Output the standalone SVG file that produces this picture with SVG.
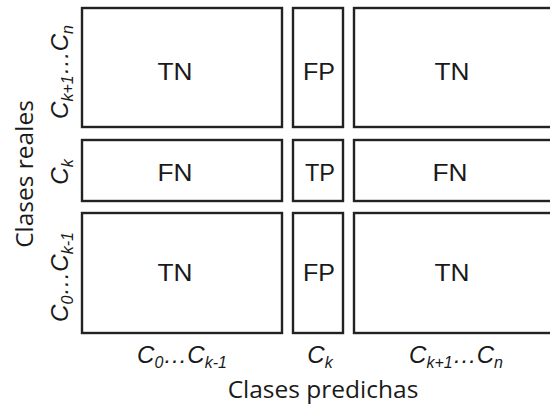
<svg xmlns="http://www.w3.org/2000/svg" width="550" height="409" viewBox="0 0 550 409">
<style>
.cell{fill:#fff;stroke:#222;stroke-width:2.4}
.cl{font-family:"Liberation Sans",Arial,sans-serif;font-size:24px;fill:#1a1a1a;text-anchor:middle}
.ax{font-family:"Liberation Sans",Arial,sans-serif;font-style:italic;font-size:24px;fill:#1a1a1a;text-anchor:middle}
.sub{font-size:16px}
.tt{font-family:"Open Sans","Noto Sans",sans-serif;font-size:24.5px;fill:#1a1a1a;text-anchor:middle}
</style>
<rect width="550" height="409" fill="#fff"/>
<g id="r1c1"><rect class="cell" x="82" y="8" width="200" height="119"/><text class="cl" x="175" y="80" textLength="35" lengthAdjust="spacingAndGlyphs">TN</text></g>
<g id="r1c2"><rect class="cell" x="293" y="8" width="50" height="119"/><text class="cl" x="319" y="80" textLength="32" lengthAdjust="spacingAndGlyphs">FP</text></g>
<g id="r1c3"><rect class="cell" x="354" y="8" width="210" height="119"/><text class="cl" x="452" y="80" textLength="35" lengthAdjust="spacingAndGlyphs">TN</text></g>
<g id="r2c1"><rect class="cell" x="82" y="140" width="200" height="61"/><text class="cl" x="175" y="181" textLength="35" lengthAdjust="spacingAndGlyphs">FN</text></g>
<g id="r2c2"><rect class="cell" x="293" y="140" width="50" height="61"/><text class="cl" x="320" y="181" textLength="30" lengthAdjust="spacingAndGlyphs">TP</text></g>
<g id="r2c3"><rect class="cell" x="354" y="140" width="210" height="61"/><text class="cl" x="450" y="181" textLength="35" lengthAdjust="spacingAndGlyphs">FN</text></g>
<g id="r3c1"><rect class="cell" x="82" y="213" width="200" height="120"/><text class="cl" x="175" y="281" textLength="35" lengthAdjust="spacingAndGlyphs">TN</text></g>
<g id="r3c2"><rect class="cell" x="293" y="213" width="50" height="120"/><text class="cl" x="319" y="281" textLength="32" lengthAdjust="spacingAndGlyphs">FP</text></g>
<g id="r3c3"><rect class="cell" x="354" y="213" width="210" height="120"/><text class="cl" x="452" y="281" textLength="35" lengthAdjust="spacingAndGlyphs">TN</text></g>
<g id="connectors"></g>
<g id="col-labels">
<text class="ax" x="182" y="363">C<tspan class="sub" dy="5">0</tspan><tspan dy="-5">…C</tspan><tspan class="sub" dy="5">k-1</tspan></text>
<text class="ax" x="320" y="363">C<tspan class="sub" dy="5">k</tspan></text>
<text class="ax" x="456" y="363">C<tspan class="sub" dy="5">k+1</tspan><tspan dy="-5">…C</tspan><tspan class="sub" dy="5">n</tspan></text>
</g>
<g id="row-labels">
<text class="ax" transform="translate(68,72) rotate(-90)">C<tspan class="sub" dy="5">k+1</tspan><tspan dy="-5">…C</tspan><tspan class="sub" dy="5">n</tspan></text>
<text class="ax" transform="translate(68,172) rotate(-90)">C<tspan class="sub" dy="5">k</tspan></text>
<text class="ax" transform="translate(68,277) rotate(-90)">C<tspan class="sub" dy="5">0</tspan><tspan dy="-5">…C</tspan><tspan class="sub" dy="5">k-1</tspan></text>
</g>
<g id="axis-titles">
<text class="tt" x="323" y="398">Clases predichas</text>
<text class="tt" transform="translate(33,174) rotate(-90)">Clases reales</text>
</g>
</svg>
